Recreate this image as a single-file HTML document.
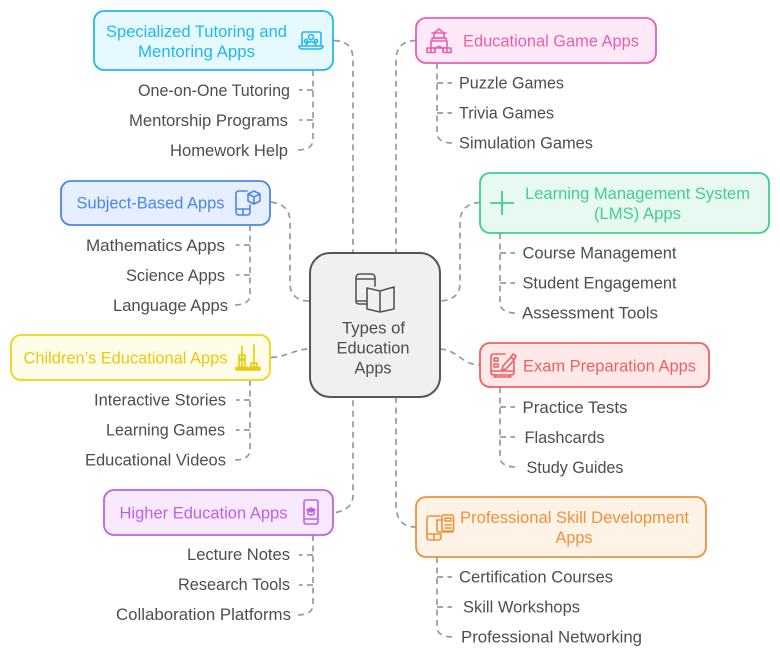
<!DOCTYPE html>
<html><head><meta charset="utf-8"><title>Types of Education Apps</title>
<style>
html,body{margin:0;padding:0;background:#fff;width:780px;height:657px;overflow:hidden}
svg{display:block}
text{font-family:"Liberation Sans",sans-serif;font-size:17px}
.i{fill:#4d4d4d}
.c{fill:none;stroke:#999;stroke-width:1.7;stroke-dasharray:6 4.500}
.ic{fill:none;stroke-width:1.6;stroke-linecap:round;stroke-linejoin:round}
</style></head><body>
<svg width="780" height="657" viewBox="0 0 780 657" xmlns="http://www.w3.org/2000/svg">
<rect width="780" height="657" fill="#fff"/>
<g class="c">
<path d="M334 40.500C347 41 353 47 353 60V253"/>
<path d="M271 202C284 204 290 210 290 222V283C290 295 297 301 310 301"/>
<path d="M271 357.500C286 357 295 349 310 349"/>
<path d="M336 512.500C347 510 353 505 353 495V397"/>
<path d="M416 40.500C403 41 396 47 396 60V253"/>
<path d="M480 202.500C467 203 460 210 460 222V283C460 295 453 300 440 301"/>
<path d="M440 349C458 350 462 365 480 365"/>
<path d="M396 397V505C396 520 403 527 416 527"/>
<path d="M313 70V140C313 147 306 150 298 150M313 90H299M313 120H299"/>
<path d="M250 225V295C250 302 243 305 235 305M250 245H236M250 275H236"/>
<path d="M250 380V450C250 457 243 460 235 460M250 400H236M250 430H236"/>
<path d="M313 535V605C313 612 306 615 298 615M313 555H299M313 585H299"/>
<path d="M437 63V133C437 140 444 143 452 143M437 83H452M437 113H452"/>
<path d="M500 233V303C500 310 507 313 516 313M500 253H515M500 283H515"/>
<path d="M500 387V457C500 464 507 467 516 467M500 407H515M500 437H515"/>
<path d="M437 557V627C437 634 444 637 452 637M437 577H452M437 607H452"/>
</g>
<rect x="94" y="11" width="239" height="59" rx="10" fill="#e6f9ff" stroke="#22b8ee" stroke-width="1.8"/>
<rect x="61" y="181" width="209" height="44" rx="10" fill="#e6efff" stroke="#4a86ea" stroke-width="1.8"/>
<rect x="11" y="335" width="259" height="45" rx="10" fill="#fffce8" stroke="#f0d419" stroke-width="1.8"/>
<rect x="104" y="490" width="229" height="45" rx="10" fill="#f8e9ff" stroke="#bd62e8" stroke-width="1.8"/>
<rect x="416" y="18" width="240" height="45" rx="10" fill="#ffe9f6" stroke="#e85fae" stroke-width="1.8"/>
<rect x="480" y="173" width="289" height="60" rx="10" fill="#e8f9f2" stroke="#3fcf8c" stroke-width="1.8"/>
<rect x="480" y="343" width="229" height="44" rx="10" fill="#ffe8e8" stroke="#ec6262" stroke-width="1.8"/>
<rect x="416" y="497" width="290" height="60" rx="10" fill="#fff2e7" stroke="#ee9238" stroke-width="1.8"/>
<rect x="310" y="253" width="130" height="144" rx="20" fill="#f0f0f0" stroke="#555" stroke-width="2"/>

<text x="106" y="37" fill="#22b8ee" textLength="181" lengthAdjust="spacingAndGlyphs">Specialized Tutoring and</text>
<text x="138" y="57" fill="#22b8ee" textLength="117" lengthAdjust="spacingAndGlyphs">Mentoring Apps</text>
<text x="76.500" y="208.500" fill="#4a86ea" textLength="148" lengthAdjust="spacingAndGlyphs">Subject-Based Apps</text>
<text x="23.500" y="363.500" fill="#e8ca10" textLength="204" lengthAdjust="spacingAndGlyphs">Children’s Educational Apps</text>
<text x="119.500" y="518.500" fill="#bd62e8" textLength="168" lengthAdjust="spacingAndGlyphs">Higher Education Apps</text>
<text x="463" y="46.500" fill="#e85fae" textLength="176" lengthAdjust="spacingAndGlyphs">Educational Game Apps</text>
<text x="525" y="199" fill="#3fcf8c" textLength="225" lengthAdjust="spacingAndGlyphs">Learning Management System</text>
<text x="594" y="219" fill="#3fcf8c" textLength="87" lengthAdjust="spacingAndGlyphs">(LMS) Apps</text>
<text x="523" y="371.500" fill="#ec6262" textLength="173" lengthAdjust="spacingAndGlyphs">Exam Preparation Apps</text>
<text x="460" y="523" fill="#ee9238" textLength="229" lengthAdjust="spacingAndGlyphs">Professional Skill Development</text>
<text x="555.500" y="543" fill="#ee9238" textLength="37" lengthAdjust="spacingAndGlyphs">Apps</text>

<text class="i" x="342" y="333.500" textLength="63" lengthAdjust="spacingAndGlyphs">Types of</text>
<text class="i" x="336.500" y="353.500" textLength="73" lengthAdjust="spacingAndGlyphs">Education</text>
<text class="i" x="354.500" y="373.500" textLength="37" lengthAdjust="spacingAndGlyphs">Apps</text>

<g class="i">
<text x="138" y="96" textLength="152" lengthAdjust="spacingAndGlyphs">One-on-One Tutoring</text>
<text x="129" y="126" textLength="159" lengthAdjust="spacingAndGlyphs">Mentorship Programs</text>
<text x="170" y="156" textLength="118" lengthAdjust="spacingAndGlyphs">Homework Help</text>
<text x="86" y="251" textLength="139" lengthAdjust="spacingAndGlyphs">Mathematics Apps</text>
<text x="126" y="281" textLength="99" lengthAdjust="spacingAndGlyphs">Science Apps</text>
<text x="113" y="311" textLength="115" lengthAdjust="spacingAndGlyphs">Language Apps</text>
<text x="94" y="405.500" textLength="132" lengthAdjust="spacingAndGlyphs">Interactive Stories</text>
<text x="106" y="435.500" textLength="119" lengthAdjust="spacingAndGlyphs">Learning Games</text>
<text x="85" y="465.500" textLength="141" lengthAdjust="spacingAndGlyphs">Educational Videos</text>
<text x="187" y="560" textLength="103" lengthAdjust="spacingAndGlyphs">Lecture Notes</text>
<text x="178" y="590" textLength="112" lengthAdjust="spacingAndGlyphs">Research Tools</text>
<text x="116" y="620" textLength="175" lengthAdjust="spacingAndGlyphs">Collaboration Platforms</text>
<text x="459" y="88.500" textLength="105" lengthAdjust="spacingAndGlyphs">Puzzle Games</text>
<text x="459" y="118.500" textLength="95" lengthAdjust="spacingAndGlyphs">Trivia Games</text>
<text x="459" y="148.500" textLength="134" lengthAdjust="spacingAndGlyphs">Simulation Games</text>
<text x="522.500" y="258.500" textLength="154" lengthAdjust="spacingAndGlyphs">Course Management</text>
<text x="522.500" y="288.500" textLength="154" lengthAdjust="spacingAndGlyphs">Student Engagement</text>
<text x="522" y="318.500" textLength="136" lengthAdjust="spacingAndGlyphs">Assessment Tools</text>
<text x="522.500" y="413" textLength="105" lengthAdjust="spacingAndGlyphs">Practice Tests</text>
<text x="524.500" y="443" textLength="80" lengthAdjust="spacingAndGlyphs">Flashcards</text>
<text x="526.500" y="473" textLength="97" lengthAdjust="spacingAndGlyphs">Study Guides</text>
<text x="459" y="582.500" textLength="154" lengthAdjust="spacingAndGlyphs">Certification Courses</text>
<text x="463" y="612.500" textLength="117" lengthAdjust="spacingAndGlyphs">Skill Workshops</text>
<text x="461" y="642.500" textLength="181" lengthAdjust="spacingAndGlyphs">Professional Networking</text>
</g>

<!-- center icon -->
<g class="ic" stroke="#555" stroke-width="2">
<path d="M374 304H359Q356 304 356 301V278Q356 274 360 274H371Q375 274 375 278V286M356 279H375M356 301H367"/>
<path d="M367 288L380 291V312L367 309ZM380 291L394 287V309L380 312Z" fill="#f0f0f0"/>
</g>
<!-- specialized -->
<g class="ic" stroke="#22b8ee">
<path d="M302 45V34Q302 32 304 32H319Q321 32 321 34V45"/>
<path d="M299 46H323Q323 49 319 49H303Q299 49 299 46Z"/>
<circle cx="311" cy="37" r="2.500"/><circle cx="306" cy="41" r="1.600"/><circle cx="316" cy="41" r="1.600"/>
<path d="M306 45Q311 38 316 45"/>
</g>
<!-- subject -->
<g class="ic" stroke="#4a86ea">
<path d="M247 191H239Q236 191 236 194V212Q236 215 239 215H247Q250 215 250 212V205M236 209H250M243 209V215"/>
<path d="M254 191L260 194V201L254 204L248 201V194ZM248 194L254 197L260 194M254 197V204"/>
</g>
<!-- children -->
<g class="ic" stroke="#e8ca10">
<rect x="236" y="367.500" width="24" height="2.500" fill="#e8ca10"/>
<path d="M242 346V367M254 345V367"/>
<rect x="239" y="355" width="6" height="4"/><rect x="239" y="360" width="6" height="7"/>
<rect x="251" y="363" width="6" height="4"/>
</g>
<!-- higher -->
<g class="ic" stroke="#bd62e8">
<rect x="304" y="500" width="14" height="24" rx="2"/>
<path d="M304 519H318"/>
<path d="M307 510L311 508L315 510L311 512Z" fill="#bd62e8"/>
<path d="M308 512V514Q311 516 314 514V512"/>
</g>
<!-- game -->
<g class="ic" stroke="#e85fae">
<path d="M439 29L434 33V38H444V33ZM432 33H446"/>
<path d="M432 38H446V41H432ZM431 41H447V48H431Z"/>
<rect x="427" y="48" width="8" height="4.500"/><rect x="443" y="48" width="8" height="4.500"/>
<path d="M435 52V49Q439 44 443 49V52"/>
<path d="M431 48V52M447 48V52"/>
</g>
<!-- lms -->
<g stroke="#3fcf8c" stroke-width="1.800" fill="none">
<path d="M502 191V215M490 203H514"/>
</g>
<!-- exam -->
<g class="ic" stroke="#ec6262">
<path d="M505 354H494Q491 354 491 357V372Q491 375 494 375H511Q514 375 514 372V362"/>
<path d="M491 371H514M495 375V377H510V375M494 377H511"/>
<rect x="494" y="358" width="4" height="3"/><rect x="494" y="364" width="4" height="3"/>
<path d="M503 366L502 370L506 369L514 360L511 357ZM511 357L513 354L516 356L514 360"/>
</g>
<!-- professional -->
<g class="ic" stroke="#ee9238">
<path d="M440 516H430Q427 516 427 519V537Q427 540 430 540H438Q441 540 441 537V534M427 534H441M434 534V540"/>
<rect x="442" y="515" width="11.500" height="16" rx="1.500"/>
<path d="M442 520H437V530Q437 532 439 532H453M445 518H451V521H445ZM445 525H451M445 528H451"/>
</g>
</svg>
</body></html>
